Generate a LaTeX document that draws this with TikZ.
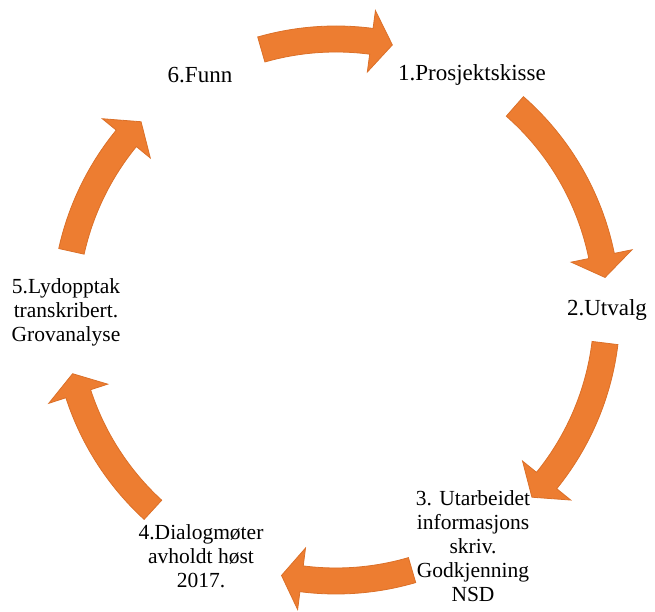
\documentclass[tikz,border=0pt]{standalone}
\usepackage{fontspec}
\setmainfont{Liberation Serif}
\newfontfamily\cyclefont{Liberation Serif}
\usepackage{xcolor}
\usepackage{tikz}

\definecolor{arrowfill}{HTML}{ED7D31}
\definecolor{arrowline}{HTML}{DB7029}

\begin{document}
\begin{tikzpicture}[x=1pt, y=1pt,
    main/.style = {align=center, inner sep=0pt, font=\cyclefont\fontsize{23}{25}\selectfont},
    small/.style = {align=center, inner sep=0pt, font=\cyclefont\fontsize{21.5}{24}\selectfont},
    arrowbox/.style = {fill=arrowfill, draw=arrowline, line width=0.8pt, line join=miter},
    arcarrow/.style args = {#1/#2/#3}{insert path={
        (#1:284pt) arc[start angle=#1, end angle=#2, radius=284pt]
        -- (#2:302pt) -- (#3:271pt) -- (#2:240pt) -- (#2:258pt)
        arc[start angle=#2, end angle=#1, radius=258pt] -- cycle}}]
    \useasboundingbox (0,0) rectangle (655,612);

    \node[main]  (1) at (472,537) {1.Prosjektskisse};
    \node[main]  (2) at (607,302) {2.Utvalg};
    \node[small] (3) at (473,66)  {3. Utarbeidet\\informasjons\\skriv.\\Godkjenning\\NSD};
    \node[small] (4) at (201,56)  {4.Dialogmøter\\avholdt høst\\2017.};
    \node[small] (5) at (66,300)  {5.Lydopptak\\transkribert.\\Grovanalyse};
    \node[main]  (6) at (200,537) {6.Funn};

    \begin{scope}[shift={(336,302)}]
    \path[arrowbox] [arcarrow=106/82.5/78];
    \path[arrowbox] [arcarrow=48.7/11.5/6.9];
    \path[arrowbox] [arcarrow=-7/-39/-43.7];
    \path[arrowbox] [arcarrow=-73.7/-97.3/-101.6];
    \path[arrowbox] [arcarrow=-132.5/-162/-166.4];
    \path[arrowbox] [arcarrow=167.5/140.7/136];
    \end{scope}
\end{tikzpicture}
\end{document}
